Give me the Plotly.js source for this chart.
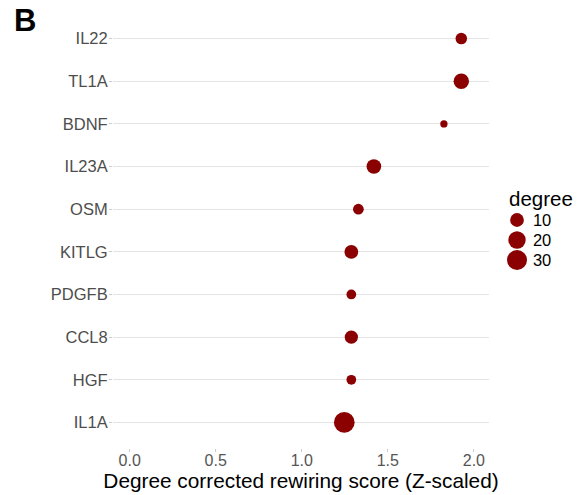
<!DOCTYPE html>
<html>
<head>
<meta charset="utf-8">
<script src="https://cdn.plot.ly/plotly-3.0.1.min.js"></script>
<style>
  html, body { margin: 0; padding: 0; background: #ffffff; }
  #chart { width: 582px; height: 495px; }
</style>
</head>
<body>
<div id="chart"></div>
<script>
// Genes, listed top to bottom
const genes = ['IL22', 'TL1A', 'BDNF', 'IL23A', 'OSM', 'KITLG', 'PDGFB', 'CCL8', 'HGF', 'IL1A'];
// Degree corrected rewiring score (Z-scaled)
const scores = [1.927, 1.927, 1.826, 1.419, 1.329, 1.288, 1.288, 1.288, 1.288, 1.247];
// Node degree, shown as point size
const degrees = [6, 14, 3, 12, 5, 10, 4, 9, 4, 33];
// Size key entries
const legendDegrees = [10, 20, 30];
// x tick positions and labels
const xTickVals = [0, 0.5, 1, 1.5, 2];
const xTickText = ['0.0', '0.5', '1.0', '1.5', '2.0'];

// Area-style size scale: diameter grows with sqrt of the rescaled degree
const DEG_MIN = 3, DEG_MAX = 33, SIZE_MIN = 7.3, SIZE_MAX = 20.7;
function sizeFor(d) {
  const t = Math.max(0, (d - DEG_MIN) / (DEG_MAX - DEG_MIN));
  return SIZE_MIN + (SIZE_MAX - SIZE_MIN) * Math.sqrt(t);
}

const FONT = 'Liberation Sans, Arial, Helvetica, sans-serif';
const RED = '#8b0000';

const points = {
  type: 'scatter',
  mode: 'markers',
  x: scores,
  y: genes,
  marker: { color: RED, size: degrees.map(sizeFor), line: { width: 0 }, opacity: 1 },
  showlegend: false,
  hoverinfo: 'skip'
};

// Size key drawn on its own small axis pair to the right of the panel
const sizeKey = {
  type: 'scatter',
  mode: 'markers',
  x: legendDegrees.map(() => 0),
  y: legendDegrees,
  xaxis: 'x2',
  yaxis: 'y2',
  marker: { color: RED, size: legendDegrees.map(sizeFor), line: { width: 0 }, opacity: 1 },
  showlegend: false,
  hoverinfo: 'skip'
};

const layout = {
  width: 582,
  height: 495,
  margin: { l: 113, r: 2, t: 13, b: 47 },
  paper_bgcolor: '#ffffff',
  plot_bgcolor: '#ffffff',
  font: { family: FONT, color: '#000000' },
  title: {
    text: '<b>B</b>',
    font: { family: FONT, size: 31, color: '#000000' },
    xref: 'container', yref: 'container',
    x: 14 / 582, xanchor: 'left',
    y: 1 - 20 / 495, yanchor: 'middle'
  },
  xaxis: {
    domain: [0, 376 / 467],
    range: [-0.097, 2.088],
    tickvals: xTickVals,
    ticktext: xTickText,
    showgrid: false,
    zeroline: false,
    showline: false,
    ticks: 'outside',
    ticklen: 3,
    tickwidth: 1,
    tickcolor: '#cccccc',
    ticklabelstandoff: -5,
    tickfont: { family: FONT, size: 16, color: '#555555' },
    title: {
      text: 'Degree corrected rewiring score (Z-scaled)',
      font: { family: FONT, size: 20.8, color: '#000000' },
      standoff: 0
    },
    fixedrange: true
  },
  yaxis: {
    type: 'category',
    categoryorder: 'array',
    categoryarray: genes.slice().reverse(),
    range: [-0.6, genes.length - 0.4],
    showgrid: true,
    gridcolor: '#e4e4e4',
    gridwidth: 1.2,
    zeroline: false,
    showline: false,
    ticks: 'outside',
    ticklen: 3,
    tickwidth: 1,
    tickcolor: '#cccccc',
    ticklabelstandoff: -2,
    tickfont: { family: FONT, size: 16.5, color: '#4d4d4d' },
    fixedrange: true
  },
  xaxis2: {
    domain: [376 / 467, 1],
    range: [-1, 2.25],
    anchor: 'y2',
    visible: false,
    fixedrange: true
  },
  yaxis2: {
    domain: [0.3, 0.7],
    range: [58.75, -28.25],
    anchor: 'free',
    position: 0.897,
    side: 'right',
    tickvals: legendDegrees,
    ticks: '',
    showgrid: false,
    zeroline: false,
    showline: false,
    tickfont: { family: FONT, size: 16.5, color: '#000000' },
    fixedrange: true
  },
  annotations: [{
    text: 'degree',
    xref: 'paper', yref: 'paper',
    x: (507 - 113) / 467, xanchor: 'left',
    y: (448 - 198) / 435, yanchor: 'middle',
    showarrow: false,
    font: { family: FONT, size: 20.5, color: '#000000' }
  }]
};

Plotly.newPlot('chart', [points, sizeKey], layout, { staticPlot: true, displayModeBar: false });
</script>
</body>
</html>
